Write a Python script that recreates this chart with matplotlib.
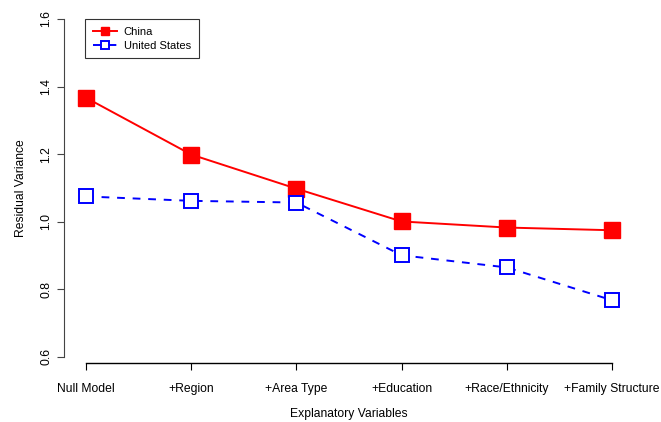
import matplotlib.pyplot as plt

plt.rcParams['font.family'] = ['Liberation Sans', 'DejaVu Sans']

# model steps and residual variances
steps = ["Null Model", "+Region", "+Area Type", "+Education",
         "+Race/Ethnicity", "+Family Structure"]
china = [1.367, 1.199, 1.098, 1.001, 0.983, 0.975]
usa = [1.075, 1.062, 1.057, 0.901, 0.865, 0.768]
yticks = [0.6, 0.8, 1.0, 1.2, 1.4, 1.6]

x = list(range(1, len(steps) + 1))

fig = plt.figure(figsize=(6.61, 4.22), dpi=100)
ax = fig.add_axes([0.0983, 0.122, 0.8594, 0.865])

ax.plot(x, china, color="red", lw=1.4, marker="s", ms=11,
        markerfacecolor="red", markeredgecolor="red", label="China")
ax.plot(x, usa, color="blue", lw=1.4, ls=(0, (4, 4)), marker="s", ms=10.5,
        markerfacecolor="white", markeredgecolor="blue", markeredgewidth=1.4,
        label="United States")

ax.set_xlim(0.8, 6.2)
ax.set_ylim(0.56, 1.64)

# R style detached axes
for s in ["top", "right"]:
    ax.spines[s].set_visible(False)
ax.spines["left"].set_bounds(0.6, 1.6)
ax.spines["left"].set_color("#444444")
ax.spines["left"].set_position(("outward", 1))
ax.spines["bottom"].set_bounds(1, 6)
ax.spines["bottom"].set_position(("data", 0.582))
ax.spines["bottom"].set_linewidth(1.0)

ax.set_xticks(x)
ax.set_xticklabels(steps, fontsize=8.7)
ax.set_yticks(yticks)
ax.set_yticklabels([f"{v:.1f}" for v in yticks], fontsize=8.7, rotation=90,
                   va="center")
ax.tick_params(axis="x", length=5, width=0.8, pad=9)
ax.tick_params(axis="y", length=5, width=0.8, pad=3, color="#444444")

ax.set_xlabel("Explanatory Variables", fontsize=8.7, labelpad=10)
ax.set_ylabel("Residual Variance", fontsize=8.7, labelpad=10)

leg = ax.legend(loc="upper left", bbox_to_anchor=(0.035, 0.963), fontsize=8,
                markerscale=0.55, frameon=True, fancybox=False, edgecolor="black",
                handlelength=2.2, handletextpad=0.6, borderpad=0.7,
                labelspacing=0.35, borderaxespad=0)
leg.get_frame().set_linewidth(0.8)

fig.savefig("out.png", dpi=100)
